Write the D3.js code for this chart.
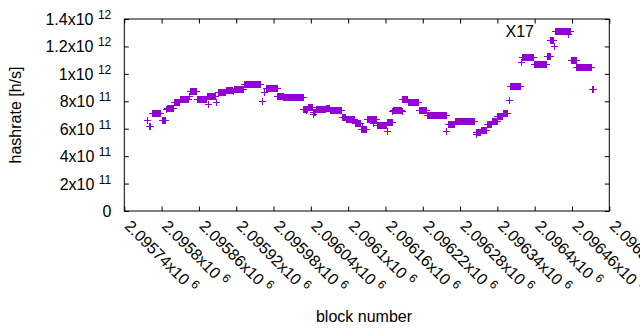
<meta charset="utf-8">

<style>
    body {
        margin: 0;
        background: #ffffff;
    }

    text {
        font-family: "Liberation Sans", Arial, sans-serif;
        fill: #000000;
    }
</style>

<body>
<script src="https://d3js.org/d3.v7.min.js"></script>
<script>

    // runs of blocks with one hashrate estimate: first block, last block, rate in 1e9 h/s
    let runStart = [2095776, 2095779, 2095784, 2095800, 2095807, 2095808, 2095820, 2095829, 2095844, 2095845,
        2095857, 2095873, 2095874, 2095887, 2095890, 2095903, 2095915, 2095916, 2095932, 2095961,
        2095964, 2095968, 2095986, 2095996, 2096028, 2096033, 2096035, 2096043, 2096044, 2096048,
        2096065, 2096071, 2096090, 2096096, 2096111, 2096120, 2096123, 2096131, 2096140, 2096147,
        2096162, 2096163, 2096171, 2096172, 2096186, 2096187, 2096196, 2096214, 2096227, 2096258,
        2096260, 2096272, 2096305, 2096306, 2096313, 2096323, 2096331, 2096340, 2096349, 2096358,
        2096360, 2096378, 2096379, 2096399, 2096420, 2096425, 2096431, 2096433, 2096453, 2096458,
        2096467, 2096492];
    let runEnd = [2095776, 2095781, 2095798, 2095806, 2095807, 2095818, 2095828, 2095842, 2095844, 2095856,
        2095871, 2095886, 2095874, 2095887, 2095902, 2095913, 2095915, 2095931, 2095959, 2095961,
        2095964, 2095985, 2095995, 2096027, 2096034, 2096033, 2096042, 2096047, 2096044, 2096063,
        2096070, 2096089, 2096095, 2096110, 2096119, 2096128, 2096123, 2096145, 2096140, 2096161,
        2096162, 2096170, 2096171, 2096185, 2096186, 2096195, 2096213, 2096226, 2096257, 2096258,
        2096271, 2096303, 2096312, 2096306, 2096322, 2096330, 2096339, 2096348, 2096355, 2096358,
        2096376, 2096378, 2096398, 2096419, 2096424, 2096429, 2096431, 2096457, 2096453, 2096466,
        2096490, 2096494];
    let runRate = [663, 620, 718, 663, 744, 753, 795, 819, 835, 877,
        816, 838, 780, 797, 870, 884, 877, 891, 926, 802,
        870, 900, 836, 831, 746, 736, 758, 722, 705, 741,
        753, 740, 687, 671, 642, 598, 620, 674, 642, 629,
        583, 649, 729, 740, 727, 816, 792, 740, 698, 581,
        632, 655, 576, 561, 594, 634, 656, 694, 712, 813,
        909, 1090, 1120, 1072, 1132, 1244, 1201, 1309, 1290, 1099,
        1050, 893];

    let xTicks = [2095740, 2095800, 2095860, 2095920, 2095980, 2096040, 2096100,
        2096160, 2096220, 2096280, 2096340, 2096400, 2096460, 2096520];
    let yTicks = [0, 2e11, 4e11, 6e11, 8e11, 1e12, 1.2e12, 1.4e12];

    let width = 640, height = 330;
    let plotLeft = 124.3, plotRight = 609.3, plotTop = 19, plotBottom = 211;
    let color = "#9400d3";

    let svg = d3.select("body").append("svg")
        .attr("width", width)
        .attr("height", height);

    let xScale = d3.scaleLinear().domain([2095740, 2096520]).range([plotLeft, plotRight]);
    let yScale = d3.scaleLinear().domain([0, 1.4e12]).range([plotBottom, plotTop]);

    // writes "m x10 e" with a raised exponent into a text node
    function sciLabel(sel, v, digits) {
        sel.text(null);
        if (v === 0) {
            sel.text("0");
            return;
        }
        let e = Math.floor(Math.log10(v) + 1e-9);
        let m = +(v / Math.pow(10, e)).toFixed(digits);
        sel.append("tspan").text(m + "x10 ");
        sel.append("tspan").attr("dy", -6).attr("font-size", 12).text(e);
    }

    let xAxis = svg.append("g")
        .attr("transform", "translate(0," + plotBottom + ")")
        .call(d3.axisBottom(xScale).tickValues(xTicks).tickSize(-4.5).tickSizeOuter(0))
        .attr("font-size", 16);
    xAxis.select(".domain").remove();
    xAxis.selectAll(".tick text")
        .attr("x", 0).attr("y", 0).attr("dy", 0)
        .attr("text-anchor", "start")
        .attr("transform", "translate(-1,16) rotate(45)")
        .each(function (d) { sciLabel(d3.select(this), d, 5); });

    let xTop = svg.append("g")
        .attr("transform", "translate(0," + plotTop + ")")
        .call(d3.axisTop(xScale).tickValues(xTicks).tickSize(-4.5).tickSizeOuter(0).tickFormat(""));
    xTop.select(".domain").remove();

    let yAxis = svg.append("g")
        .attr("transform", "translate(" + plotLeft + ",0)")
        .call(d3.axisLeft(yScale).tickValues(yTicks).tickSize(-4.5).tickSizeOuter(0))
        .attr("font-size", 16);
    yAxis.select(".domain").remove();
    yAxis.selectAll(".tick text")
        .attr("x", -13).attr("dy", 5.5)
        .attr("text-anchor", "end")
        .each(function (d) { sciLabel(d3.select(this), d, 1); });

    let yRight = svg.append("g")
        .attr("transform", "translate(" + plotRight + ",0)")
        .call(d3.axisRight(yScale).tickValues(yTicks).tickSize(-4.5).tickSizeOuter(0).tickFormat(""));
    yRight.select(".domain").remove();

    svg.append("rect")
        .attr("x", plotLeft)
        .attr("y", plotTop)
        .attr("width", plotRight - plotLeft)
        .attr("height", plotBottom - plotTop)
        .style("fill", "none")
        .style("stroke", "#000")
        .style("stroke-width", 1);

    // one "+" for every block of every run
    let points = [];
    runStart.forEach(function (s, i) {
        for (let b = s; b <= runEnd[i]; b++) {
            points.push({block: b, rate: runRate[i] * 1e9});
        }
    });

    let r = 3.5;
    svg.append("g")
        .selectAll("path")
        .data(points)
        .enter().append("path")
        .attr("d", function (d) {
            let x = Math.round(xScale(d.block)) + 0.5;
            let y = Math.round(yScale(d.rate)) + 0.5;
            return "M" + (x - r) + "," + y + "H" + (x + r) + "M" + x + "," + (y - r) + "V" + (y + r);
        })
        .style("fill", "none")
        .style("stroke", color)
        .style("stroke-width", 1)
        .style("shape-rendering", "crispEdges");

    svg.append("text")
        .attr("x", 505.5)
        .attr("y", 37)
        .attr("font-size", 16)
        .text("X17");

    svg.append("text")
        .attr("transform", "translate(21,115) rotate(-90)")
        .attr("text-anchor", "middle")
        .attr("font-size", 16)
        .text("hashrate [h/s]");

    svg.append("text")
        .attr("x", 364)
        .attr("y", 322)
        .attr("text-anchor", "middle")
        .attr("font-size", 16)
        .text("block number");

</script>
